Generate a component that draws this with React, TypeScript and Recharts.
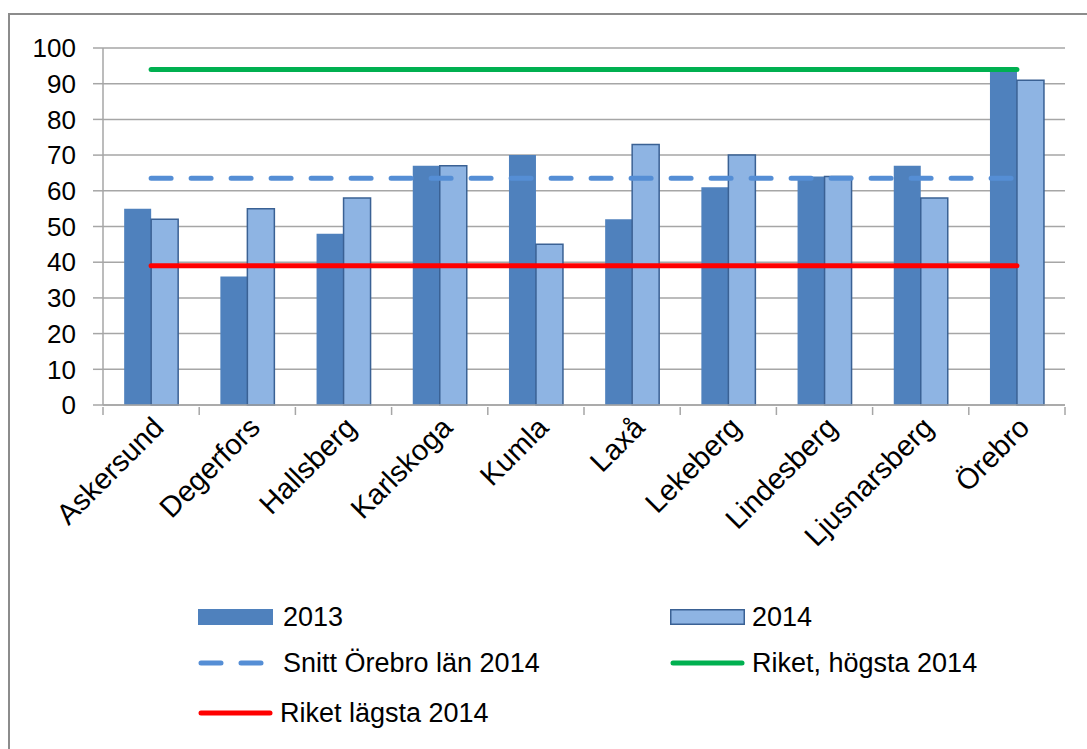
import {
  ComposedChart,
  Bar,
  Line,
  XAxis,
  YAxis,
  CartesianGrid,
} from 'recharts';

const KOMMUNER = [
  'Askersund',
  'Degerfors',
  'Hallsberg',
  'Karlskoga',
  'Kumla',
  'Laxå',
  'Lekeberg',
  'Lindesberg',
  'Ljusnarsberg',
  'Örebro',
];

const VALUES_2013 = [55, 36, 48, 67, 70, 52, 61, 64, 67, 94];
const VALUES_2014 = [52, 55, 58, 67, 45, 73, 70, 64, 58, 91];

const SNITT_LAN_2014 = 63.5;
const RIKET_HOGSTA_2014 = 94;
const RIKET_LAGSTA_2014 = 39;

const Y_TICKS = [0, 10, 20, 30, 40, 50, 60, 70, 80, 90, 100];

const SERIES_NAMES = [
  '2013',
  '2014',
  'Snitt Örebro län 2014',
  'Riket, högsta 2014',
  'Riket lägsta 2014',
];

const data = KOMMUNER.map((name, i) => ({
  name,
  v2013: VALUES_2013[i],
  v2014: VALUES_2014[i],
  snitt: SNITT_LAN_2014,
  hogsta: RIKET_HOGSTA_2014,
  lagsta: RIKET_LAGSTA_2014,
}));

const FONT = "'Liberation Sans', Arial, sans-serif";
const GRID = '#a6a6a6';
const DARK = '#4f81bd';
const LIGHT = '#8eb4e3';
const BORDER = '#3a6194';
const DASH = '#558ed5';
const GREEN = '#00b050';
const RED = '#ff0000';

const W = 1087;
const H = 749;
const PLOT_LEFT = 103;
const PLOT_RIGHT = 1065;
const BAND = (PLOT_RIGHT - PLOT_LEFT) / KOMMUNER.length;

function CategoryTick(props: any) {
  const { x, y, payload, index } = props;
  const left = x - BAND / 2;
  const right = x + BAND / 2;
  const ax = x;
  const ay = y + 8;
  return (
    <g>
      <line x1={left} y1={y} x2={left} y2={y + 8} stroke={GRID} strokeWidth={1.5} />
      {index === KOMMUNER.length - 1 && (
        <line x1={right} y1={y} x2={right} y2={y + 8} stroke={GRID} strokeWidth={1.5} />
      )}
      <text
        x={ax}
        y={ay}
        textAnchor="end"
        fontSize={29}
        fontFamily={FONT}
        fill="#000"
        transform={`rotate(-45, ${ax}, ${ay})`}
        dy="0.7em"
      >
        {payload.value}
      </text>
    </g>
  );
}

function LegendItem({ kind, label }: { kind: string; label: string }) {
  let swatch = null;
  if (kind === 'bar1') {
    swatch = <rect x={0} y={6} width={75} height={16} fill={DARK} />;
  } else if (kind === 'bar2') {
    swatch = <rect x={0.75} y={6.75} width={73.5} height={14.5} fill={LIGHT} stroke={BORDER} strokeWidth={1.5} />;
  } else if (kind === 'dash') {
    swatch = (
      <line x1={3} y1={14} x2={72} y2={14} stroke={DASH} strokeWidth={5} strokeDasharray="20 20" strokeLinecap="round" />
    );
  } else {
    swatch = (
      <line x1={3} y1={14} x2={72} y2={14} stroke={kind} strokeWidth={5} strokeLinecap="round" />
    );
  }
  return (
    <div style={{ display: 'flex', alignItems: 'center', height: 28 }}>
      <svg width={75} height={28} style={{ marginRight: kind === 'bar1' || kind === 'dash' ? 10 : 7 }}>
        {swatch}
      </svg>
      <span style={{ fontFamily: FONT, fontSize: 27, color: '#000', whiteSpace: 'nowrap' }}>{label}</span>
    </div>
  );
}

export default function App() {
  const legendKinds = ['bar1', 'bar2', 'dash', GREEN, RED];
  const legendPos = [
    { left: 198, top: 603 },
    { left: 670, top: 603 },
    { left: 198, top: 649 },
    { left: 670, top: 649 },
    { left: 198, top: 699 },
  ];

  return (
    <div
      style={{
        position: 'absolute',
        left: 0,
        top: 0,
        width: W,
        height: H,
        overflow: 'hidden',
        background: '#fff',
      }}
    >
      <div
        style={{
          position: 'absolute',
          left: 8,
          top: 13,
          width: W,
          height: H,
          borderTop: '2.5px solid #8c8c8c',
          borderLeft: '2.5px solid #8c8c8c',
        }}
      />

      <div style={{ position: 'absolute', left: 0, top: 0 }}>
        <ComposedChart
          width={W}
          height={H}
          data={data}
          margin={{ top: 48, right: W - PLOT_RIGHT, left: 0, bottom: 0 }}
          barCategoryGap="22%"
          barGap={0}
        >
          <CartesianGrid vertical={false} stroke={GRID} strokeWidth={1.5} />

          <XAxis
            dataKey="name"
            height={H - 48 - 357}
            axisLine={{ stroke: GRID, strokeWidth: 1.5 }}
            tickLine={false}
            tickSize={0}
            interval={0}
            tick={<CategoryTick />}
          />

          <YAxis
            width={PLOT_LEFT}
            domain={[0, 100]}
            ticks={Y_TICKS}
            interval={0}
            axisLine={{ stroke: GRID, strokeWidth: 1.5 }}
            tickLine={{ stroke: GRID, strokeWidth: 1.5 }}
            tickSize={10}
            tickMargin={17}
            tick={{ fill: '#000', fontSize: 26, fontFamily: FONT }}
          />

          <Bar dataKey="v2013" name={SERIES_NAMES[0]} fill={DARK} isAnimationActive={false} />
          <Bar
            dataKey="v2014"
            name={SERIES_NAMES[1]}
            fill={LIGHT}
            stroke={BORDER}
            strokeWidth={1.5}
            isAnimationActive={false}
          />

          <Line
            type="linear"
            dataKey="snitt"
            name={SERIES_NAMES[2]}
            stroke={DASH}
            strokeWidth={5}
            strokeDasharray="20 20"
            strokeLinecap="round"
            dot={false}
            activeDot={false}
            isAnimationActive={false}
          />
          <Line
            type="linear"
            dataKey="hogsta"
            name={SERIES_NAMES[3]}
            stroke={GREEN}
            strokeWidth={5}
            strokeLinecap="round"
            dot={false}
            activeDot={false}
            isAnimationActive={false}
          />
          <Line
            type="linear"
            dataKey="lagsta"
            name={SERIES_NAMES[4]}
            stroke={RED}
            strokeWidth={5}
            strokeLinecap="round"
            dot={false}
            activeDot={false}
            isAnimationActive={false}
          />
        </ComposedChart>
      </div>

      {SERIES_NAMES.map((label, i) => (
        <div key={label} style={{ position: 'absolute', left: legendPos[i].left, top: legendPos[i].top }}>
          <LegendItem kind={legendKinds[i]} label={label} />
        </div>
      ))}
    </div>
  );
}
